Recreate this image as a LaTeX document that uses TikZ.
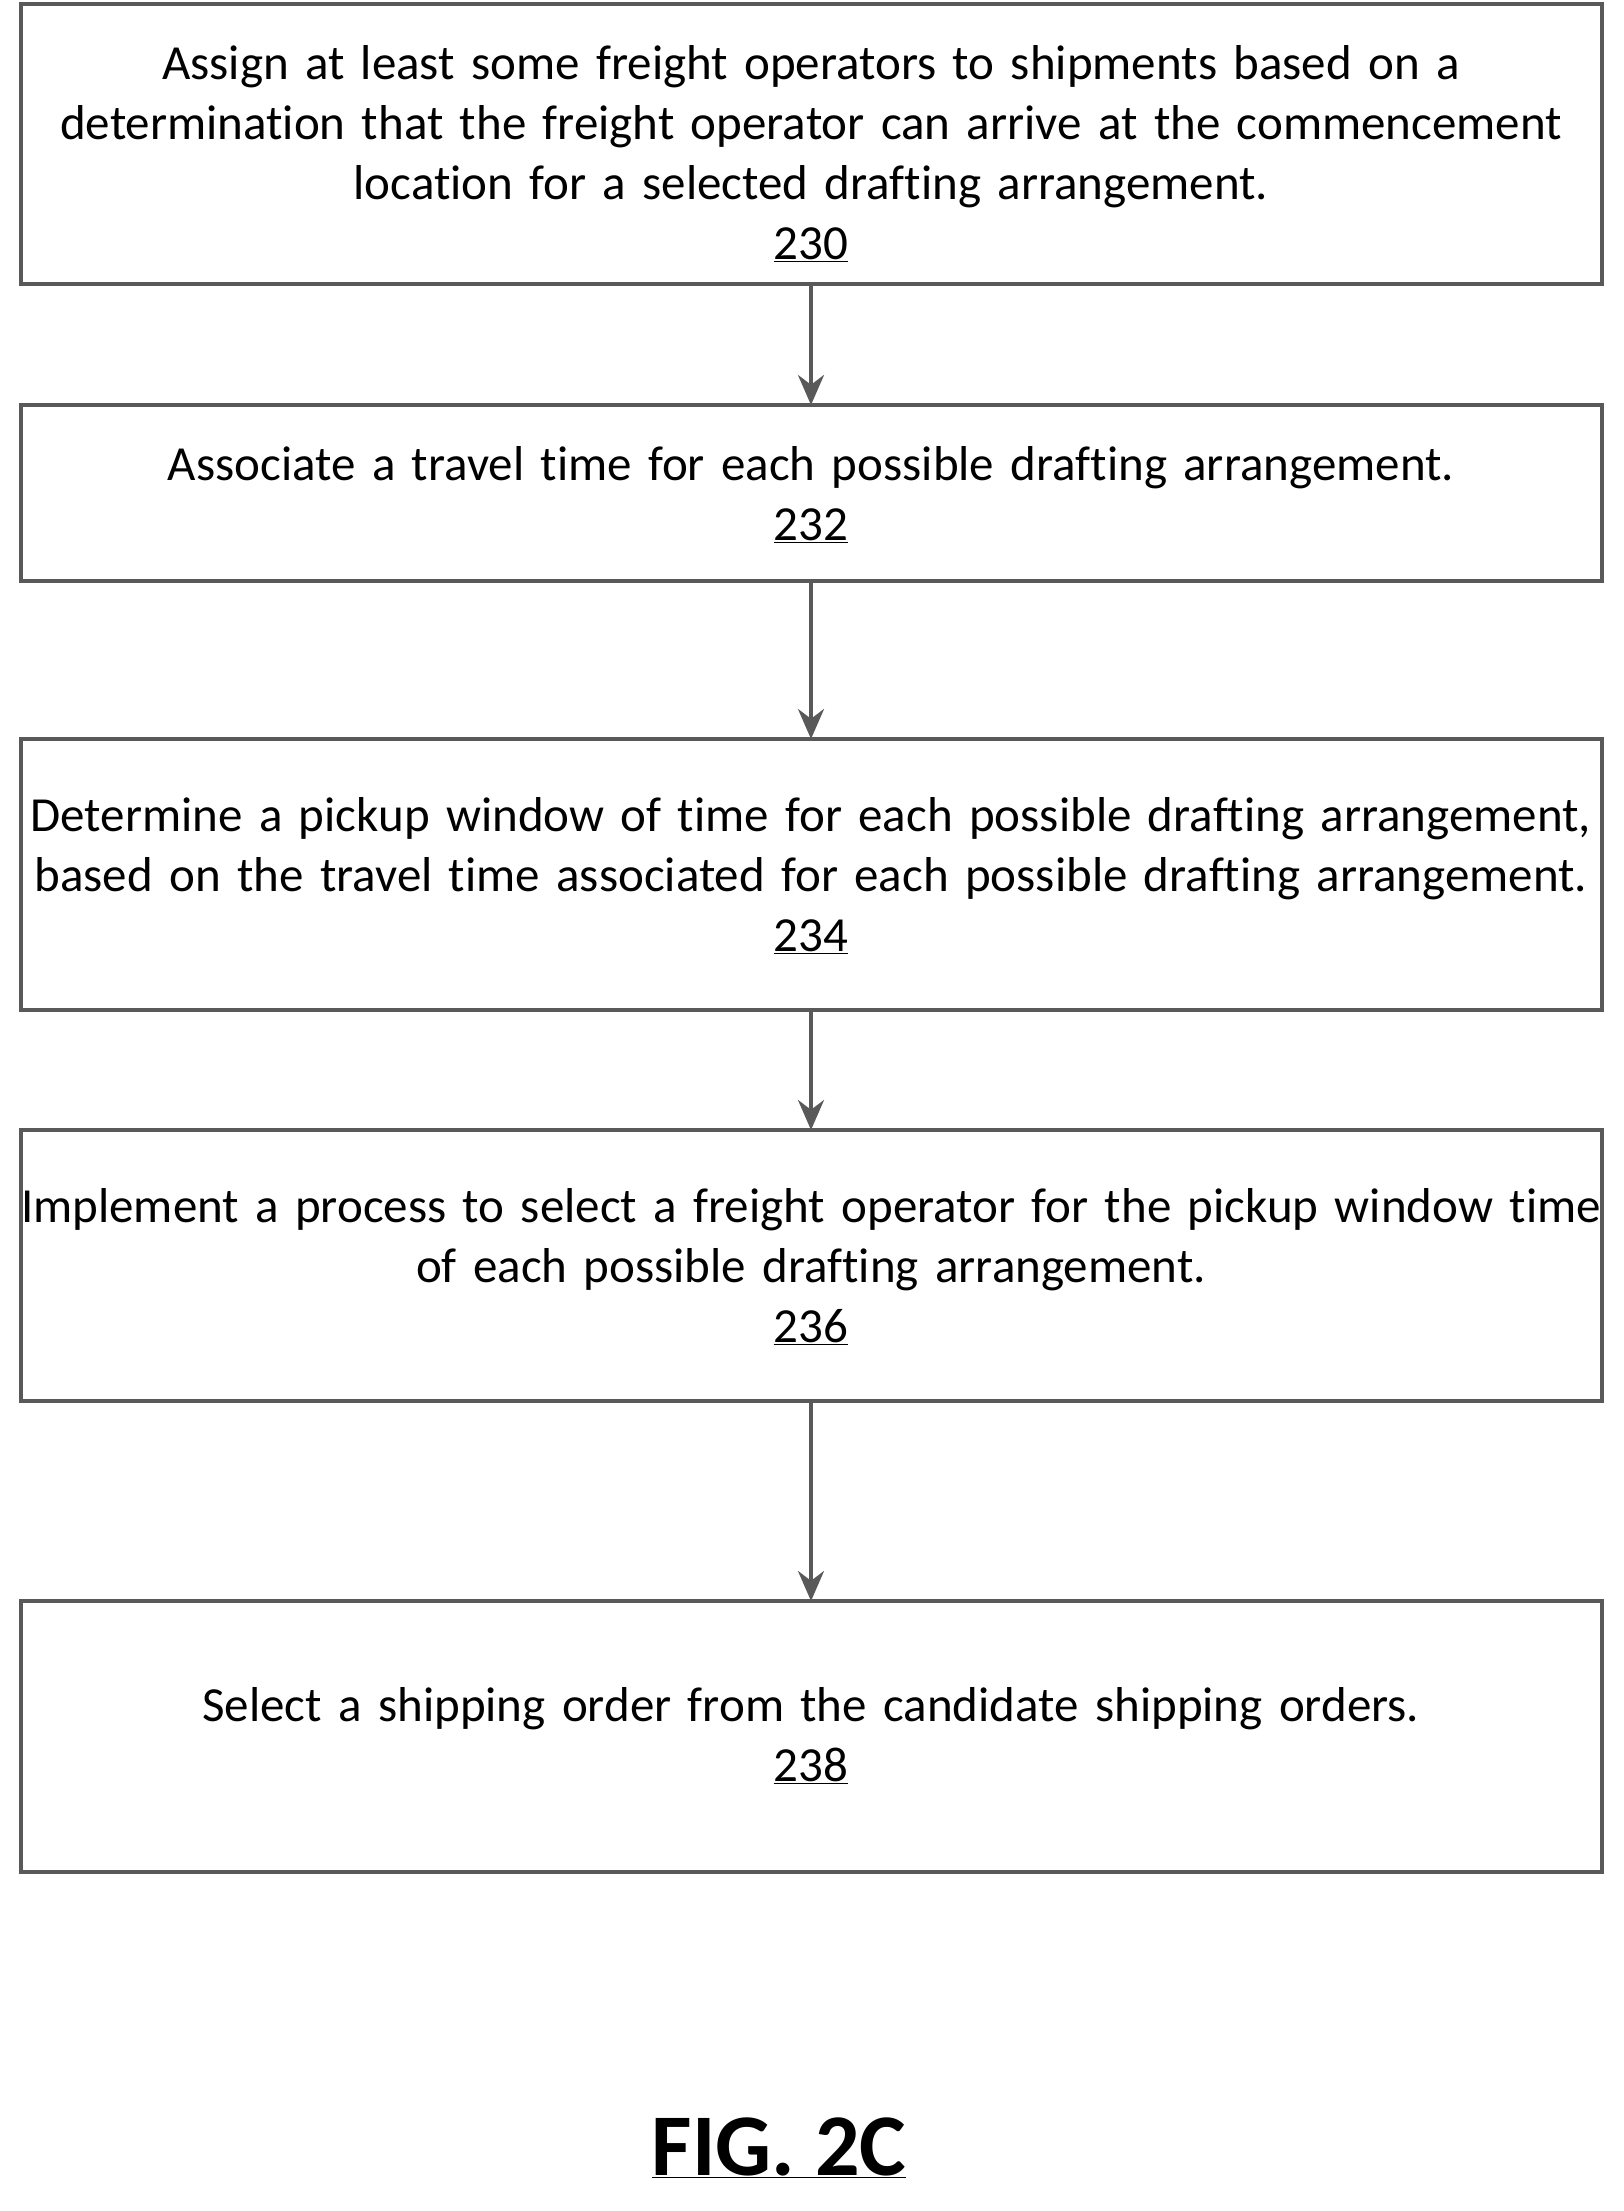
\documentclass[tikz,border=0pt]{standalone}
\usepackage{fontspec}
\setmainfont{Carlito}[Ligatures=NoCommon]
\usetikzlibrary{arrows.meta}
\begin{document}
\begin{tikzpicture}[x=1pt,y=-1pt,
  box/.style={draw=black!65,line width=4pt},
  lbl/.style={align=center,font=\fontsize{49}{60}\selectfont,text width=1600pt},
  arr/.style={draw=black!65,line width=3.5pt,-{Stealth[length=30pt,width=26pt]}}]
\useasboundingbox (0,0) rectangle (1623,2211);
\draw[box] (21,4) rectangle (1602,284);
\draw[box] (21,405) rectangle (1602,581);
\draw[box] (21,739) rectangle (1602,1010);
\draw[box] (21,1130) rectangle (1602,1401);
\draw[box] (21,1601) rectangle (1602,1872);
\coordinate (b1) at (811,284); \coordinate (t2) at (811,405);
\coordinate (b2) at (811,581); \coordinate (t3) at (811,739);
\coordinate (b3) at (811,1010); \coordinate (t4) at (811,1130);
\coordinate (b4) at (811,1401); \coordinate (t5) at (811,1601);
\node[lbl] (n1) at (811,154) {Assign at least some freight operators to shipments based on a\\determination that the freight operator can arrive at the commencement\\location for a selected drafting arrangement.\\\underline{230}};
\node[lbl] (n2) at (811,495) {Associate a travel time for each possible drafting arrangement.\\\underline{232}};
\node[lbl] (n3) at (811,876) {Determine a pickup window of time for each possible drafting arrangement,\\based on the travel time associated for each possible drafting arrangement.\\\underline{234}};
\node[lbl] (n4) at (811,1267) {Implement a process to select a freight operator for the pickup window time\\of each possible drafting arrangement.\\\underline{236}};
\node[lbl] (n5) at (811,1736) {Select a shipping order from the candidate shipping orders.\\\underline{238}};
\draw[arr] (b1) -- (t2);
\draw[arr] (b2) -- (t3);
\draw[arr] (b3) -- (t4);
\draw[arr] (b4) -- (t5);
\node[font=\fontsize{88}{96}\selectfont\bfseries] (fig) at (779,2148) {\underline{FIG. 2C}};
\end{tikzpicture}
\end{document}
